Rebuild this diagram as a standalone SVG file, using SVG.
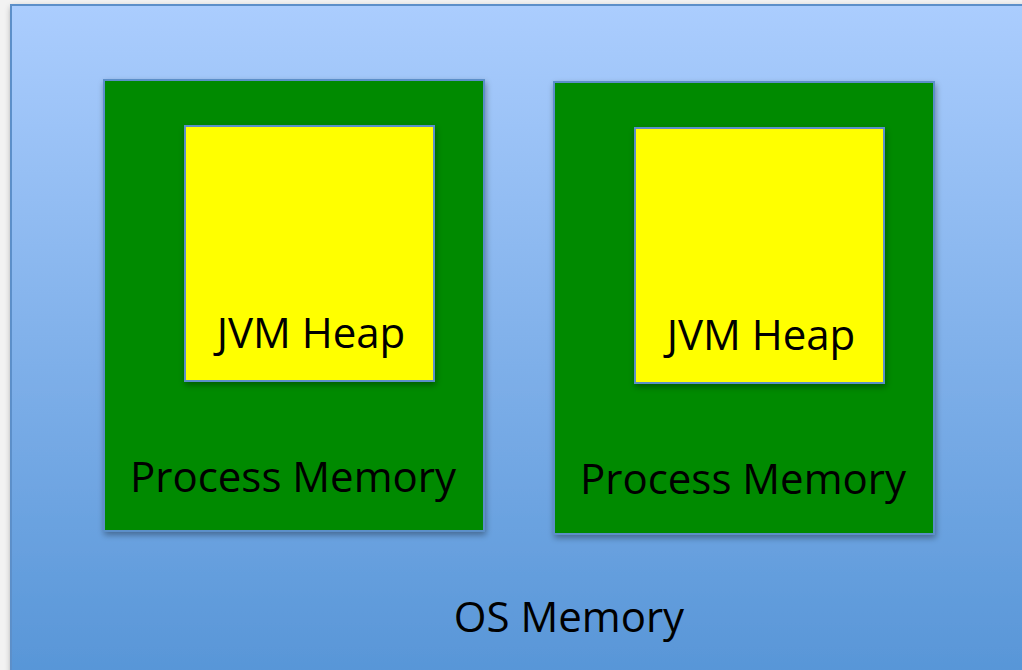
<svg xmlns="http://www.w3.org/2000/svg" width="1022" height="670" viewBox="0 0 1022 670">
  <defs>
    <linearGradient id="osFill" x1="0" y1="0" x2="0" y2="1">
      <stop offset="0" stop-color="#abcdfe"/>
      <stop offset="1" stop-color="#5594d6"/>
    </linearGradient>
    <filter id="shadow" x="-10%" y="-10%" width="125%" height="125%">
      <feGaussianBlur in="SourceAlpha" stdDeviation="3"/>
      <feOffset dx="1" dy="3" result="b"/>
      <feComponentTransfer><feFuncA type="linear" slope="0.35"/></feComponentTransfer>
      <feMerge><feMergeNode/><feMergeNode in="SourceGraphic"/></feMerge>
    </filter>
  </defs>
  <style>
    .lbl { font-family: "Open Sans", "Noto Sans", "Liberation Sans", sans-serif; font-size: 42px; fill: #000; }
    .proc { fill: #008a00; stroke: #5b8fc9; stroke-width: 2; }
    .heap { fill: #ffff00; stroke: #5b8fc9; stroke-width: 2; }
  </style>
  <rect x="0" y="0" width="1022" height="670" fill="#f2f2f2"/>
  <g id="os-memory">
    <rect x="11" y="5" width="1030" height="690" fill="url(#osFill)" stroke="#5b8fc9" stroke-width="2" filter="url(#shadow)"/>
    <text class="lbl" x="569" y="632" text-anchor="middle">OS Memory</text>
  </g>
  <g id="process-left">
    <rect class="proc" x="104" y="80" width="380" height="451" filter="url(#shadow)"/>
    <text class="lbl" x="293" y="492" text-anchor="middle">Process Memory</text>
  </g>
  <g id="heap-left">
    <rect class="heap" x="185" y="126" width="249" height="255" filter="url(#shadow)"/>
    <text class="lbl" x="311" y="348" text-anchor="middle">JVM Heap</text>
  </g>
  <g id="process-right">
    <rect class="proc" x="554" y="82" width="380" height="452" filter="url(#shadow)"/>
    <text class="lbl" x="743" y="494" text-anchor="middle">Process Memory</text>
  </g>
  <g id="heap-right">
    <rect class="heap" x="635" y="128" width="249" height="255" filter="url(#shadow)"/>
    <text class="lbl" x="761" y="350" text-anchor="middle">JVM Heap</text>
  </g>
  <g id="connectors"/>
</svg>
